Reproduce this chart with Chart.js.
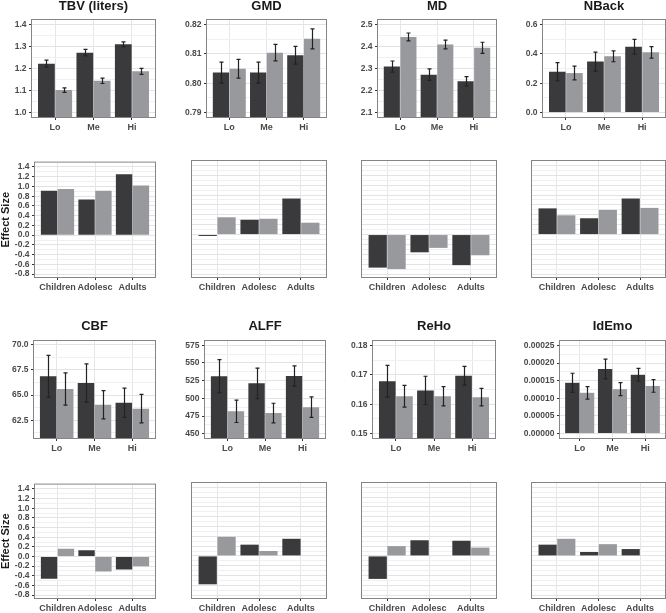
<!DOCTYPE html>
<html>
<head>
<meta charset="utf-8">
<script src="https://cdn.jsdelivr.net/npm/chart.js@4.4.1/dist/chart.umd.min.js"></script>
<style>
  html, body { margin: 0; padding: 0; background: #fff; }
  body { width: 666px; height: 613px; position: relative; overflow: hidden; }
  canvas.panel { position: absolute; }
</style>
</head>
<body>
<script>
// Category labels
const doseGroups = ['Lo', 'Me', 'Hi'];
const ageGroups = ['Children', 'Adolesc', 'Adults'];

// Row 1: means (dark / light) with error bars
const tbvDark = [1.222, 1.272, 1.310];
const tbvLight = [1.102, 1.144, 1.187];
const tbvDarkErr = [0.016, 0.015, 0.011];
const tbvLightErr = [0.010, 0.012, 0.014];
const tbvTicks = ['1.0', '1.1', '1.2', '1.3', '1.4'];

const gmdDark = [0.8036, 0.8036, 0.8095];
const gmdLight = [0.8049, 0.8104, 0.8151];
const gmdDarkErr = [0.0036, 0.0036, 0.0030];
const gmdLightErr = [0.0032, 0.0028, 0.0034];
const gmdTicks = ['0.79', '0.80', '0.81', '0.82'];

const mdDark = [2.309, 2.272, 2.242];
const mdLight = [2.443, 2.409, 2.394];
const mdDarkErr = [0.025, 0.026, 0.021];
const mdLightErr = [0.018, 0.020, 0.025];
const mdTicks = ['2.1', '2.2', '2.3', '2.4', '2.5'];

const nbackDark = [0.278, 0.347, 0.448];
const nbackLight = [0.269, 0.383, 0.410];
const nbackDarkErr = [0.062, 0.065, 0.050];
const nbackLightErr = [0.047, 0.037, 0.039];
const nbackTicks = ['0.0', '0.2', '0.4', '0.6'];

// Row 3: means (dark / light) with error bars
const cbfDark = [66.86, 66.20, 64.25];
const cbfLight = [65.60, 64.05, 63.66];
const cbfDarkErr = [2.08, 1.90, 1.45];
const cbfLightErr = [1.60, 1.40, 1.42];
const cbfTicks = ['62.5', '65.0', '67.5', '70.0'];

const alffDark = [531.3, 521.2, 531.7];
const alffLight = [481.7, 479.3, 487.6];
const alffDarkErr = [23.4, 21.5, 14.3];
const alffLightErr = [15.8, 13.8, 14.6];
const alffTicks = ['450', '475', '500', '525', '550', '575'];

const rehoDark = [0.1678, 0.1647, 0.1697];
const rehoLight = [0.1627, 0.1627, 0.1624];
const rehoDarkErr = [0.0054, 0.0048, 0.0032];
const rehoLightErr = [0.0037, 0.0033, 0.0030];
const rehoTicks = ['0.15', '0.16', '0.17', '0.18'];

const idemoDark = [0.000144, 0.000183, 0.0001667];
const idemoLight = [0.0001156, 0.0001259, 0.000135];
const idemoDarkErr = [0.000027, 0.000028, 0.0000183];
const idemoLightErr = [0.0000177, 0.0000185, 0.0000178];
const idemoTicks = ['0.00000', '0.00005', '0.00010', '0.00015', '0.00020', '0.00025'];

// Rows 2 and 4: effect sizes
const effectTicks = ['-0.8', '-0.6', '-0.4', '-0.2', '0.0', '0.2', '0.4', '0.6', '0.8', '1.0', '1.2', '1.4'];
const tbvEffDark = [0.91, 0.73, 1.25];
const tbvEffLight = [0.95, 0.91, 1.02];
const gmdEffDark = [-0.03, 0.30, 0.73];
const gmdEffLight = [0.35, 0.32, 0.24];
const mdEffDark = [-0.67, -0.36, -0.62];
const mdEffLight = [-0.70, -0.27, -0.42];
const nbackEffDark = [0.53, 0.33, 0.73];
const nbackEffLight = [0.39, 0.50, 0.54];
const cbfEffDark = [-0.46, 0.13, -0.27];
const cbfEffLight = [0.16, -0.31, -0.20];
const alffEffDark = [-0.58, 0.23, 0.35];
const alffEffLight = [0.39, 0.10, 0.01];
const rehoEffDark = [-0.47, 0.32, 0.31];
const rehoEffLight = [0.20, -0.01, 0.17];
const idemoEffDark = [0.23, 0.08, 0.14];
const idemoEffLight = [0.35, 0.24, -0.01];

const DARK = '#3a3a3c';
const LIGHT = '#98999d';
const FONT = "'Liberation Sans', Arial, sans-serif";
Chart.defaults.font.family = FONT;

// rows: canvas top, plot box, title centre (relative to canvas), x-axis height
const rows = {
  1: { top: 0, plotTop: 20, plotBottom: 117, titleY: 6.7, xh: 18 },
  2: { top: 155, plotTop: 161, plotBottom: 277, xh: 18 },
  3: { top: 310, plotTop: 341, plotBottom: 438, titleY: 16.7, xh: 18 },
  4: { top: 477, plotTop: 483, plotBottom: 598, xh: 15 }
};

const panels = [
  { row: 1, x: [32, 155], title: 'TBV (liters)', labels: doseGroups, dark: tbvDark, light: tbvLight, darkErr: tbvDarkErr, lightErr: tbvLightErr, ticks: tbvTicks, min: 0.98, max: 1.42 },
  { row: 1, x: [207, 326], title: 'GMD', labels: doseGroups, dark: gmdDark, light: gmdLight, darkErr: gmdDarkErr, lightErr: gmdLightErr, ticks: gmdTicks, min: 0.7885, max: 0.8215 },
  { row: 1, x: [378, 496], title: 'MD', labels: doseGroups, dark: mdDark, light: mdLight, darkErr: mdDarkErr, lightErr: mdLightErr, ticks: mdTicks, min: 2.08, max: 2.52 },
  { row: 1, x: [543, 665], title: 'NBack', labels: doseGroups, dark: nbackDark, light: nbackLight, darkErr: nbackDarkErr, lightErr: nbackLightErr, ticks: nbackTicks, min: -0.03, max: 0.63 },

  { row: 2, x: [35, 155], labels: ageGroups, dark: tbvEffDark, light: tbvEffLight, ticks: effectTicks, min: -0.86, max: 1.49, yTitle: 'Effect Size' },
  { row: 2, x: [192, 326], labels: ageGroups, dark: gmdEffDark, light: gmdEffLight, ticks: effectTicks, min: -0.86, max: 1.49, hideY: true },
  { row: 2, x: [362, 496], labels: ageGroups, dark: mdEffDark, light: mdEffLight, ticks: effectTicks, min: -0.86, max: 1.49, hideY: true },
  { row: 2, x: [532, 665], labels: ageGroups, dark: nbackEffDark, light: nbackEffLight, ticks: effectTicks, min: -0.86, max: 1.49, hideY: true },

  { row: 3, x: [34, 155], title: 'CBF', labels: doseGroups, dark: cbfDark, light: cbfLight, darkErr: cbfDarkErr, lightErr: cbfLightErr, ticks: cbfTicks, min: 60.75, max: 70.36 },
  { row: 3, x: [205, 325], title: 'ALFF', labels: doseGroups, dark: alffDark, light: alffLight, darkErr: alffDarkErr, lightErr: alffLightErr, ticks: alffTicks, min: 444, max: 581 },
  { row: 3, x: [373, 495], title: 'ReHo', labels: doseGroups, dark: rehoDark, light: rehoLight, darkErr: rehoDarkErr, lightErr: rehoLightErr, ticks: rehoTicks, min: 0.1485, max: 0.1815 },
  { row: 3, x: [560, 665], title: 'IdEmo', labels: doseGroups, dark: idemoDark, light: idemoLight, darkErr: idemoDarkErr, lightErr: idemoLightErr, ticks: idemoTicks, min: -0.0000125, max: 0.0002625 },

  { row: 4, x: [35, 155], labels: ageGroups, dark: cbfEffDark, light: cbfEffLight, ticks: effectTicks, min: -0.86, max: 1.49, yTitle: 'Effect Size' },
  { row: 4, x: [192, 326], labels: ageGroups, dark: alffEffDark, light: alffEffLight, ticks: effectTicks, min: -0.86, max: 1.49, hideY: true },
  { row: 4, x: [362, 496], labels: ageGroups, dark: rehoEffDark, light: rehoEffLight, ticks: effectTicks, min: -0.86, max: 1.49, hideY: true },
  { row: 4, x: [532, 665], labels: ageGroups, dark: idemoEffDark, light: idemoEffLight, ticks: effectTicks, min: -0.86, max: 1.49, hideY: true }
];

// panel border drawn over everything, title centred over the panel
const frame = {
  id: 'frame',
  afterDraw(chart, args, opts) {
    const a = chart.chartArea, ctx = chart.ctx;
    ctx.save();
    ctx.strokeStyle = '#858585';
    ctx.lineWidth = 1;
    ctx.strokeRect(a.left - 0.5, a.top - 0.5, a.right - a.left + 1, a.bottom - a.top + 1);
    if (opts.text) {
      ctx.fillStyle = '#1a1a1a';
      ctx.font = 'bold 13px ' + FONT;
      ctx.textAlign = 'center';
      ctx.textBaseline = 'middle';
      ctx.fillText(opts.text, (a.left + a.right) / 2, opts.y);
    }
    ctx.restore();
  }
};

// error bars from dataset.errors, placed through the y scale
const errorBars = {
  id: 'errorBars',
  afterDatasetsDraw(chart) {
    const ctx = chart.ctx, y = chart.scales.y;
    ctx.save();
    ctx.strokeStyle = '#222';
    ctx.lineWidth = 1.2;
    chart.data.datasets.forEach((ds, di) => {
      if (!ds.errors) return;
      chart.getDatasetMeta(di).data.forEach((bar, i) => {
        const v = ds.data[i].y, e = ds.errors[i];
        const x = Math.round(bar.x) + 0.5;
        const top = y.getPixelForValue(v + e), bot = y.getPixelForValue(v - e);
        ctx.beginPath();
        ctx.moveTo(x, top); ctx.lineTo(x, bot);
        ctx.moveTo(x - 2, top); ctx.lineTo(x + 2, top);
        ctx.moveTo(x - 2, bot); ctx.lineTo(x + 2, bot);
        ctx.stroke();
      });
    });
    ctx.restore();
  }
};

function gridValues(majors, min, max) {
  const step = majors[1] - majors[0];
  const vals = majors.slice();
  for (let k = -1; k < majors.length; k++) {
    const m = majors[0] + (k + 0.5) * step;
    if (m > min && m < max) vals.push(m);
  }
  return vals.sort((a, b) => a - b);
}

function drawPanel(p) {
  const r = rows[p.row];
  const majors = p.ticks.map(Number);
  const step = majors[1] - majors[0];
  const isMajor = v => majors.some(m => Math.abs(m - v) < step * 1e-3);
  const labelOf = v => p.ticks[majors.findIndex(m => Math.abs(m - v) < step * 1e-3)];
  const yw = p.x[0] < 60 ? p.x[0] : 48;
  const width = p.x[1] - p.x[0] + yw + 2;
  const height = r.plotBottom - r.top + r.xh;

  const cv = document.createElement('canvas');
  cv.className = 'panel';
  cv.width = width;
  cv.height = height;
  cv.style.left = (p.x[0] - yw) + 'px';
  cv.style.top = r.top + 'px';
  document.body.appendChild(cv);

  const toPoints = vals => vals.map((v, i) => ({ x: i + 1, y: v }));

  new Chart(cv, {
    type: 'bar',
    data: {
      datasets: [
        { data: toPoints(p.dark), errors: p.darkErr, backgroundColor: DARK },
        { data: toPoints(p.light), errors: p.lightErr, backgroundColor: LIGHT }
      ]
    },
    options: {
      responsive: false,
      animation: false,
      events: [],
      categoryPercentage: 0.9,
      barPercentage: 0.97,
      layout: { padding: { top: r.plotTop - r.top, right: 2, left: 0, bottom: 0 } },
      plugins: {
        legend: { display: false },
        tooltip: { enabled: false },
        title: { display: false },
        frame: { text: p.title, y: r.titleY }
      },
      scales: {
        x: {
          type: 'linear',
          min: 0.4,
          max: 3.6,
          offset: false,
          afterBuildTicks: s => { s.ticks = p.labels.map((_, i) => ({ value: i + 1 })); },
          afterFit: s => { s.height = r.xh; },
          border: { display: false },
          grid: { offset: false, color: '#e6e6e8', lineWidth: 1, drawTicks: true, tickLength: 3, tickColor: '#333' },
          ticks: {
            autoSkip: false,
            maxRotation: 0,
            padding: 2.2,
            color: '#4a4a4a',
            font: { size: 9, weight: 'bold' },
            callback: v => p.labels[v - 1]
          }
        },
        y: {
          type: 'linear',
          min: p.min,
          max: p.max,
          beginAtZero: false,
          afterBuildTicks: s => { s.ticks = gridValues(majors, p.min, p.max).map(v => ({ value: v })); },
          afterFit: s => { s.width = yw; },
          border: { display: false },
          title: {
            display: !!p.yTitle,
            text: p.yTitle || '',
            color: '#1a1a1a',
            font: { size: 11, weight: 'bold', lineHeight: 1 },
            padding: 0
          },
          grid: {
            color: c => (c.tick && isMajor(c.tick.value)) ? '#e3e3e5' : '#f0f0f2',
            lineWidth: 1,
            drawTicks: true,
            tickLength: 3,
            tickColor: c => (!p.hideY && c.tick && isMajor(c.tick.value)) ? '#333' : 'rgba(0,0,0,0)'
          },
          ticks: {
            display: !p.hideY,
            autoSkip: false,
            padding: 2.5,
            color: '#4a4a4a',
            font: { size: 8.5, weight: 'bold' },
            callback: v => isMajor(v) ? labelOf(v) : ''
          }
        }
      }
    },
    plugins: [frame, errorBars]
  });
}

panels.forEach(drawPanel);
</script>
</body>
</html>
